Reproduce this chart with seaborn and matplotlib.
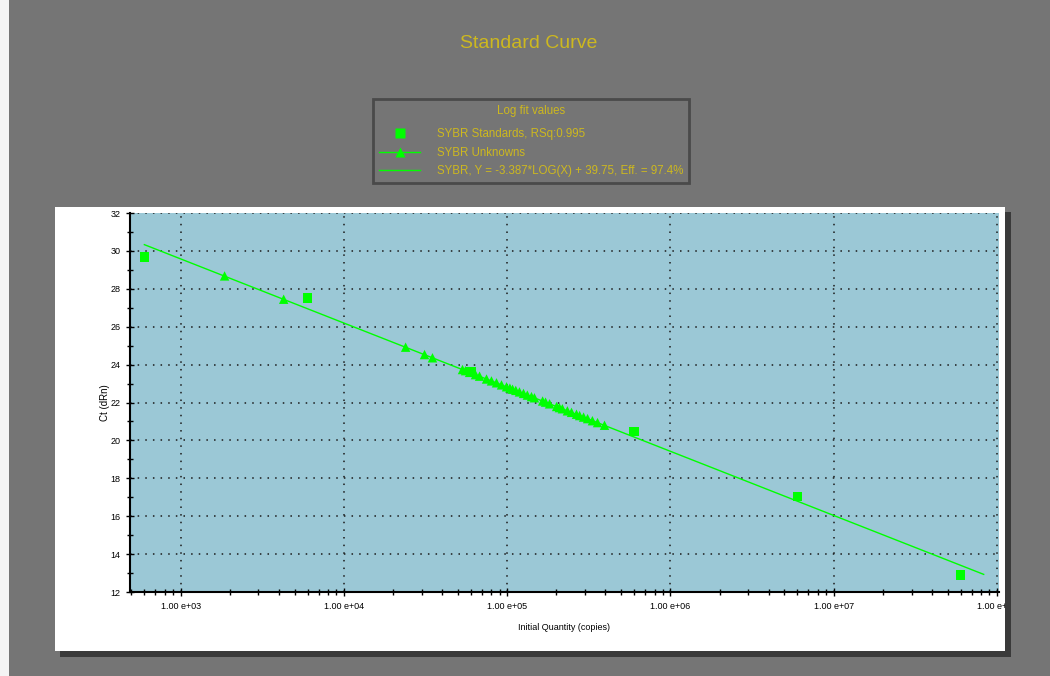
import numpy as np
import pandas as pd
import seaborn as sns
import matplotlib.pyplot as plt
from matplotlib import ticker
from matplotlib.patches import Rectangle
from matplotlib.lines import Line2D
from matplotlib.transforms import Bbox, TransformedBbox

# standards (squares)
std_qty = [600, 6000, 60000, 600000, 6000000, 60000000]
std_ct = [29.67, 27.50, 23.60, 20.47, 17.03, 12.90]

# unknowns (triangles)
unk_qty = [1860, 4280, 23900, 31200, 34900, 53300, 55600, 58900, 64000, 67800,
           74800, 80200, 86100, 92400, 99200, 104000, 108000, 113000, 119000, 126000,
           133000, 141000, 147000, 165000, 172000, 182000, 201000, 209000, 218000, 234000,
           248000, 266000, 278000, 294000, 311000, 333000, 358000, 395000]
unk_ct = [28.68, 27.45, 24.92, 24.53, 24.36, 23.74, 23.68, 23.59, 23.47, 23.39,
          23.24, 23.14, 23.04, 22.93, 22.83, 22.76, 22.70, 22.64, 22.56, 22.48,
          22.39, 22.31, 22.25, 22.08, 22.02, 21.93, 21.79, 21.73, 21.67, 21.56,
          21.48, 21.38, 21.31, 21.23, 21.15, 21.04, 20.94, 20.80]

# fit line end points
fit_qty = [600, 83000000]
fit_ct = [30.33, 12.93]

labels = ['SYBR Standards, RSq:0.995', 'SYBR Unknowns',
          'SYBR, Y = -3.387*LOG(X) + 39.75, Eff. = 97.4%']

std_df = pd.DataFrame({'qty': std_qty, 'ct': std_ct})
unk_df = pd.DataFrame({'qty': unk_qty, 'ct': unk_ct})
fit_df = pd.DataFrame({'qty': fit_qty, 'ct': fit_ct})

grey = '#757575'
blue = '#9bc8d6'
green = '#00ff00'
gold = '#cdb81f'
plt.rcParams['font.family'] = ['Liberation Sans', 'DejaVu Sans']

fig = plt.figure(figsize=(10.5, 6.76), dpi=100, facecolor=grey)
W, H = 1050, 676

def px(x0, y0, x1, y1):
    return (x0 / W, 1 - y1 / H, (x1 - x0) / W, (y1 - y0) / H)

# white strip at the left edge, shadow and white panel behind the plot
for box, col in [((0, 0, 9, 676), '#f4f4f4'), ((60, 212, 1011, 657), '#3a3a3a'),
                 ((55, 207, 1005, 651), 'white')]:
    r = px(*box)
    fig.patches.append(Rectangle(r[:2], r[2], r[3], transform=fig.transFigure,
                                 facecolor=col, edgecolor='none', zorder=-1))

ax = fig.add_axes(px(130, 213, 999, 592))
ax.set_facecolor(blue)

sns.lineplot(data=fit_df, x='qty', y='ct', color=green, lw=1, ax=ax, zorder=3)
sns.scatterplot(data=unk_df, x='qty', y='ct', marker='^', color=green, s=46,
                edgecolor='none', ax=ax, zorder=4)
sns.scatterplot(data=std_df, x='qty', y='ct', marker='s', color=green, s=48,
                edgecolor='none', ax=ax, zorder=5)

ax.set_xscale('log')
ax.set_xlim(490, 1.03e8)
ax.set_ylim(12, 32)
ax.xaxis.set_major_locator(ticker.LogLocator(base=10, numticks=12))
ax.xaxis.set_minor_locator(ticker.LogLocator(base=10, subs=np.arange(2, 10), numticks=12))
ax.xaxis.set_minor_formatter(ticker.NullFormatter())
ax.xaxis.set_major_formatter(ticker.FuncFormatter(
    lambda v, p: '1.00 e+%02d' % int(round(np.log10(v)))))
ax.yaxis.set_major_locator(ticker.MultipleLocator(2))
ax.yaxis.set_minor_locator(ticker.MultipleLocator(1))

ax.grid(True, which='major', color='#1a1a1a', linestyle=(0, (1, 4)), linewidth=1.1)
ax.set_axisbelow(True)
for s in ['top', 'right']:
    ax.spines[s].set_visible(False)
for s in ['left', 'bottom']:
    ax.spines[s].set_linewidth(1.5)
ax.tick_params(axis='both', which='major', direction='inout', length=6, width=1,
               labelsize=6.5, colors='black', pad=4)
ax.tick_params(axis='both', which='minor', direction='inout', length=4, width=1)

ax.set_xlabel('Initial Quantity (copies)', fontsize=6.5)
ax.set_ylabel('Ct (dRn)', fontsize=7)
ax.xaxis.set_label_coords(0.5, -0.082)
ax.yaxis.set_label_coords(-0.023, 0.5)

# cut the last tick label at the panel edge like the original
clip = TransformedBbox(Bbox.from_extents(55 / W, 1 - 651 / H, 1005 / W, 1 - 207 / H),
                       fig.transFigure)
for t in ax.xaxis.get_major_ticks():
    t.label1.set_clip_box(clip)
    t.label1.set_clip_on(True)

fig.text(529 / W, 1 - 43 / H, 'Standard Curve', color=gold, fontsize=14,
         ha='center', va='center')

handles = [Line2D([], [], marker='s', ls='none', color=green, markersize=6.5, mec='none'),
           Line2D([], [], marker='^', color=green, lw=1, markersize=6.5, mec='none'),
           Line2D([], [], color=green, lw=1)]
leg = fig.legend(handles, labels, title='Log fit values', loc='center',
                 bbox_to_anchor=(531 / W, 1 - 141 / H), fontsize=8.3, title_fontsize=8.3,
                 labelcolor=gold, facecolor=grey, edgecolor='#4a4a4a', framealpha=1,
                 fancybox=False, handlelength=3.6, handletextpad=1.4, labelspacing=0.55,
                 borderpad=0.5, borderaxespad=0)
leg.get_title().set_color(gold)
leg._legend_box.sep = 8
leg.get_frame().set_linewidth(2)

fig.savefig('out.png', dpi=100, facecolor=grey)
